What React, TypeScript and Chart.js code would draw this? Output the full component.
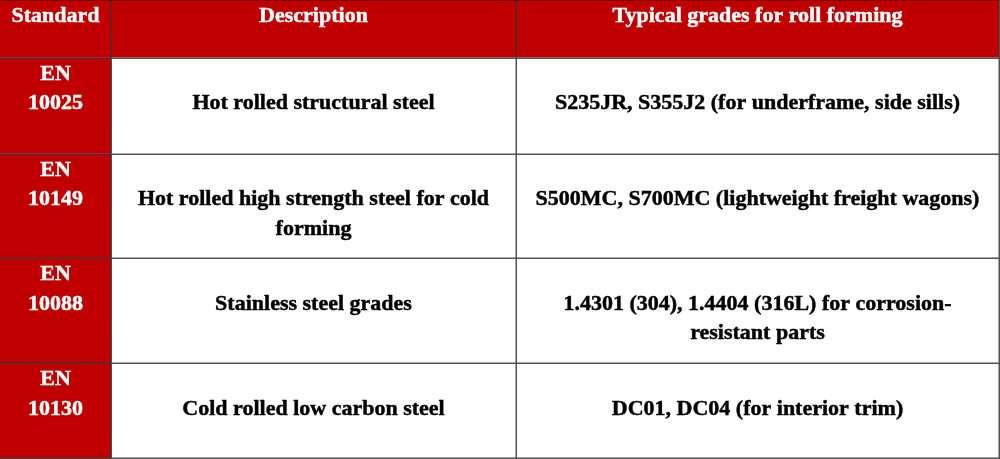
import React, { useEffect, useRef } from "react";
import { Chart, registerables } from "chart.js";

Chart.register(...registerables);

// ---- Table content ----
const headers: string[] = ["Standard", "Description", "Typical grades for roll forming"];
const standards: string[] = ["EN\n10025", "EN\n10149", "EN\n10088", "EN\n10130"];
const descriptions: string[] = [
  "Hot rolled structural steel",
  "Hot rolled high strength steel for cold\nforming",
  "Stainless steel grades",
  "Cold rolled low carbon steel",
];
const grades: string[] = [
  "S235JR, S355J2 (for underframe, side sills)",
  "S500MC, S700MC (lightweight freight wagons)",
  "1.4301 (304), 1.4404 (316L) for corrosion-\nresistant parts",
  "DC01, DC04 (for interior trim)",
];

// ---- Layout (grid boundaries in scale units) ----
const colEdges: number[] = [0, 111, 516, 999];
const rowEdges: number[] = [0, 57.7, 153.7, 258.3, 363.3, 458.3];

const RED = "#c00000";
const FONT = "bold 22px 'Liberation Serif'";
const FIRST_BASELINE = 22;
const LINE_H = 29.5;

const tablePlugin = {
  id: "tablePlugin",
  beforeDraw(chart: any) {
    const ctx: CanvasRenderingContext2D = chart.ctx;
    const xs = chart.scales.x;
    const ys = chart.scales.y;
    const px = (v: number) => xs.getPixelForValue(v);
    const py = (v: number) => ys.getPixelForValue(v);

    const rows: string[][] = [headers];
    standards.forEach((s, i) => rows.push([s, descriptions[i], grades[i]]));

    ctx.save();
    rows.forEach((row, r) => {
      row.forEach((_, c) => {
        const x0 = px(colEdges[c]);
        const x1 = px(colEdges[c + 1]);
        const y0 = py(rowEdges[r]);
        const y1 = py(rowEdges[r + 1]);
        ctx.fillStyle = r === 0 || c === 0 ? RED : "#ffffff";
        ctx.fillRect(x0, y0, x1 - x0, y1 - y0);
      });
    });

    ctx.font = FONT + ", 'Times New Roman', serif";
    ctx.textAlign = "center";
    ctx.textBaseline = "alphabetic";
    ctx.lineWidth = 0.45;
    ctx.lineJoin = "round";
    rows.forEach((row, r) => {
      row.forEach((txt, c) => {
        const cx = (px(colEdges[c]) + px(colEdges[c + 1])) / 2;
        const top = py(rowEdges[r]);
        const startLine = r > 0 && c > 0 ? 1 : 0;
        const col = r === 0 || c === 0 ? "#ffffff" : "#000000";
        ctx.fillStyle = col;
        ctx.strokeStyle = col;
        txt.split("\n").forEach((line, li) => {
          const y = top + FIRST_BASELINE + (startLine + li) * LINE_H;
          ctx.fillText(line, cx, y);
          ctx.strokeText(line, cx, y);
        });
      });
    });

    ctx.strokeStyle = "rgba(50,50,50,0.85)";
    ctx.lineWidth = 1.5;
    ctx.beginPath();
    colEdges.slice(1).forEach((cv) => {
      const x = Math.round(px(cv)) + 0.25;
      ctx.moveTo(x, py(rowEdges[0]));
      ctx.lineTo(x, py(rowEdges[rowEdges.length - 1]));
    });
    rowEdges.slice(1).forEach((rv) => {
      const y = Math.round(py(rv)) + 0.25;
      ctx.moveTo(px(colEdges[0]), y);
      ctx.lineTo(px(colEdges[colEdges.length - 1]) + 1, y);
    });
    ctx.stroke();
    ctx.strokeStyle = "rgba(80,0,0,0.6)";
    ctx.lineWidth = 1;
    ctx.beginPath();
    ctx.moveTo(px(colEdges[0]), 0.5);
    ctx.lineTo(px(colEdges[colEdges.length - 1]), 0.5);
    ctx.stroke();
    ctx.restore();
  },
};

export default function App() {
  const ref = useRef<HTMLCanvasElement | null>(null);
  useEffect(() => {
    document.body.style.margin = "0";
    document.body.style.background = "#ffffff";
    let chart: Chart | null = null;
    let cancelled = false;
    const make = () => {
      if (cancelled || !ref.current) return;
      chart = new Chart(ref.current, {
        type: "scatter",
        data: { datasets: [{ data: [] }] },
        options: {
          responsive: false,
          animation: false,
          layout: { padding: 0 },
          plugins: { legend: { display: false }, tooltip: { enabled: false } },
          scales: {
            x: { type: "linear", min: 0, max: 1000, display: false },
            y: { type: "linear", min: 0, max: 459, reverse: true, display: false },
          },
        },
        plugins: [tablePlugin],
      });
    };
    const fonts: any = (document as any).fonts;
    if (fonts && fonts.load) {
      fonts.load(FONT, "Standard").then(make, make);
    } else {
      make();
    }
    return () => {
      cancelled = true;
      if (chart) chart.destroy();
    };
  }, []);
  return (
    <div style={{ width: 1000, height: 459 }}>
      <canvas ref={ref} width={1000} height={459} style={{ display: "block", width: 1000, height: 459 }} />
    </div>
  );
}
